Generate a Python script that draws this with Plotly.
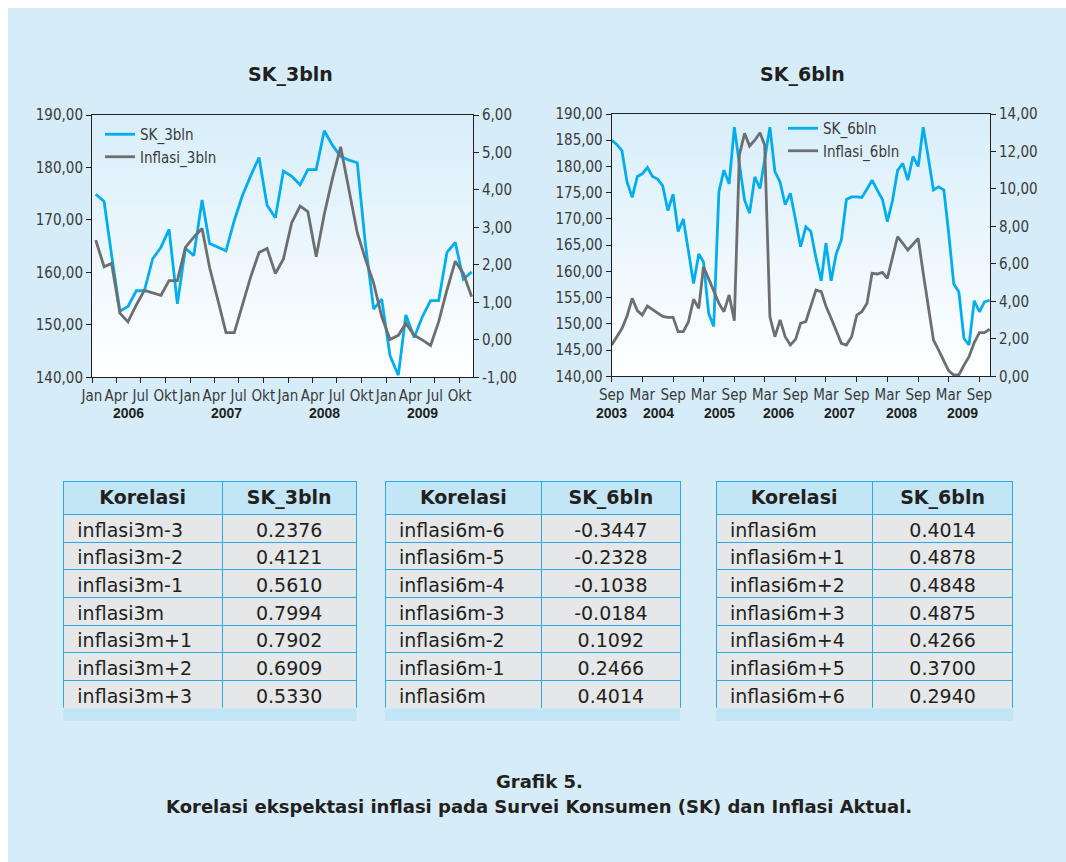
import base64
import pandas as pd
import plotly.graph_objects as go

W, H = 1066, 862

# ---------------- data: SK_3bln chart (monthly, Jan 2006 - Nov 2009) ----------------
sk_3bln = [174.9, 173.5, 163.3, 152.6, 153.5, 156.5, 156.5, 162.6, 164.8, 168.2,
           154.0, 164.6, 163.2, 173.8, 165.5, 164.8, 164.1, 169.9, 174.6, 178.4,
           181.9, 172.8, 170.4, 179.3, 178.3, 176.7, 179.6, 179.6, 187.0, 184.2,
           182.1, 181.4, 180.9, 165.5, 153.0, 154.9, 144.1, 140.4, 151.9, 147.6,
           151.5, 154.6, 154.6, 163.8, 165.7, 158.7, 160.1]
inflasi_3bln = [2.66, 1.95, 2.04, 0.71, 0.48, 0.93, 1.32, 1.25, 1.19, 1.58,
                1.58, 2.47, 2.74, 2.97, 1.93, 1.06, 0.19, 0.19, 0.95, 1.68,
                2.33, 2.44, 1.77, 2.16, 3.13, 3.57, 3.42, 2.22, 3.35, 4.32,
                5.15, 3.96, 2.86, 2.16, 1.51, 0.62, 0.01, 0.12, 0.44, 0.12,
                0.00, -0.15, 0.48, 1.33, 2.10, 1.77, 1.15]
months_3bln = pd.date_range("2006-01-01", periods=len(sk_3bln), freq="MS")

# ---------------- data: SK_6bln chart (monthly, Sep 2003 - Nov 2009) ----------------
sk_6bln = [185.0, 184.2, 183.0, 177.1, 174.1, 178.1, 178.6, 179.8, 178.1, 177.6,
           176.3, 171.6, 174.7, 167.6, 170.0, 164.0, 157.7, 163.3, 161.8, 152.0,
           149.5, 175.2, 179.3, 176.7, 187.5, 180.5, 173.6, 171.1, 178.0, 175.8,
           181.5, 187.5, 179.0, 177.0, 172.7, 174.9, 169.8, 164.7, 168.5, 167.6,
           162.5, 158.2, 165.4, 158.2, 163.3, 166.0, 173.7, 174.2, 174.2, 174.1,
           175.7, 177.4, 175.5, 173.7, 169.5, 173.5, 179.2, 180.6, 177.4, 181.9,
           180.0, 187.5, 181.5, 175.5, 176.1, 175.5, 167.5, 157.6, 156.1, 147.2,
           146.0, 154.4, 152.3, 154.2, 154.5]
inflasi_6bln = [1.67, 2.10, 2.55, 3.20, 4.16, 3.50, 3.27, 3.75, 3.57, 3.40,
                3.20, 3.15, 3.15, 2.38, 2.38, 2.90, 4.11, 3.63, 5.85, 5.20,
                4.60, 3.90, 3.45, 4.34, 2.97, 11.81, 12.97, 12.29, 12.60, 13.00,
                12.35, 3.18, 2.11, 3.01, 2.11, 1.67, 1.97, 2.83, 2.92, 3.80,
                4.61, 4.52, 3.75, 3.10, 2.40, 1.76, 1.67, 2.11, 3.27, 3.45,
                3.90, 5.50, 5.46, 5.55, 5.23, 6.30, 7.45, 7.10, 6.74, 7.05,
                7.36, 5.50, 3.60, 1.94, 1.40, 0.80, 0.30, 0.07, 0.07, 0.60,
                1.05, 1.80, 2.33, 2.33, 2.51]
months_6bln = pd.date_range("2003-09-01", periods=len(sk_6bln), freq="MS")

# ---------------- tick labels ----------------
xt3_vals = pd.date_range("2006-01-01", "2009-10-01", freq="3MS")
xt3_text = ["Jan", "Apr", "Jul", "Okt"] * 4
years3 = ["2006", "2007", "2008", "2009"]
years3_pos = ["2006-05-16", "2007-05-16", "2008-05-16", "2009-05-16"]

xt6_vals = pd.date_range("2003-09-01", "2009-09-01", freq="6MS")
xt6_text = ["Sep", "Mar"] * 6 + ["Sep"]
years6 = ["2003", "2004", "2005", "2006", "2007", "2008", "2009"]
years6_pos = ["2003-09-01", "2004-06-05", "2005-06-05", "2006-05-25",
              "2007-05-20", "2008-05-25", "2009-05-25"]

y3l_vals = [140, 150, 160, 170, 180, 190]
y3l_text = ["140,00", "150,00", "160,00", "170,00", "180,00", "190,00"]
y3r_vals = [-1, 0, 1, 2, 3, 4, 5, 6]
y3r_text = ["-1,00", "0,00", "1,00", "2,00", "3,00", "4,00", "5,00", "6,00"]
y6l_vals = [140, 145, 150, 155, 160, 165, 170, 175, 180, 185, 190]
y6l_text = ["140,00", "145,00", "150,00", "155,00", "160,00", "165,00",
            "170,00", "175,00", "180,00", "185,00", "190,00"]
y6r_vals = [0, 2, 4, 6, 8, 10, 12, 14]
y6r_text = ["0,00", "2,00", "4,00", "6,00", "8,00", "10,00", "12,00", "14,00"]

# ---------------- table data ----------------
t1_label = ["inflasi3m-3", "inflasi3m-2", "inflasi3m-1", "inflasi3m",
            "inflasi3m+1", "inflasi3m+2", "inflasi3m+3"]
t1_value = [0.2376, 0.4121, 0.5610, 0.7994, 0.7902, 0.6909, 0.5330]
t2_label = ["inflasi6m-6", "inflasi6m-5", "inflasi6m-4", "inflasi6m-3",
            "inflasi6m-2", "inflasi6m-1", "inflasi6m"]
t2_value = [-0.3447, -0.2328, -0.1038, -0.0184, 0.1092, 0.2466, 0.4014]
t3_label = ["inflasi6m", "inflasi6m+1", "inflasi6m+2", "inflasi6m+3",
            "inflasi6m+4", "inflasi6m+5", "inflasi6m+6"]
t3_value = [0.4014, 0.4878, 0.4848, 0.4875, 0.4266, 0.3700, 0.2940]

# ---------------- style ----------------
CYAN = "#00aeef"
GREY = "#6d6e71"
AXIS = "#231f20"
TXT = "#3a3a3c"
PANEL = "#d6ecf8"
HEAD = "#c3e6f7"
ROW = "#e6e7e8"
SEP = "#29abe2"
NARROW = "Liberation Sans Narrow, Arial Narrow, DejaVu Sans Condensed, sans-serif"
BOLDF = "DejaVu Sans, Arial, sans-serif"


def px(x):
    return x / W


def py(y):
    return 1 - y / H


L = dict(x0=92, x1=473, y0=115, y1=377.3)
R = dict(x0=611.7, x1=990, y0=114, y1=376.3)

fig = go.Figure()

fig.add_trace(go.Scatter(x=months_3bln + pd.Timedelta(days=14), y=sk_3bln, name="SK_3bln",
                         mode="lines", line=dict(color=CYAN, width=2.8),
                         xaxis="x", yaxis="y", legend="legend"))
fig.add_trace(go.Scatter(x=months_3bln + pd.Timedelta(days=14), y=inflasi_3bln, name="Inflasi_3bln",
                         mode="lines", line=dict(color=GREY, width=2.8),
                         xaxis="x", yaxis="y2", legend="legend"))
fig.add_trace(go.Scatter(x=months_6bln, y=sk_6bln, name="SK_6bln",
                         mode="lines", line=dict(color=CYAN, width=2.8),
                         xaxis="x2", yaxis="y3", legend="legend2"))
fig.add_trace(go.Scatter(x=months_6bln, y=inflasi_6bln, name="Inflasi_6bln",
                         mode="lines", line=dict(color=GREY, width=2.8),
                         xaxis="x2", yaxis="y4", legend="legend2"))

# ---------------- tables ----------------
tables = [
    (t1_label, t1_value, "SK_3bln", 63.3, 356.7, [159, 134.4]),
    (t2_label, t2_value, "SK_6bln", 385.0, 680.0, [156.7, 138.3]),
    (t3_label, t3_value, "SK_6bln", 716.0, 1013.3, [156.3, 141.0]),
]
T_TOP, T_BOT, T_STRIP = 481.7, 708.3, 721.0
for labels, values, col2, x0, x1, cw in tables:
    fig.add_trace(go.Table(
        domain=dict(x=[px(x0), px(x1)], y=[py(T_BOT), py(T_TOP)]),
        columnwidth=cw,
        header=dict(values=["Korelasi", col2], fill_color=HEAD, height=32.6,
                    line=dict(color=SEP, width=1), align="center",
                    font=dict(family=BOLDF, size=19, color="#231f20", weight="bold")),
        cells=dict(values=[["\u00a0" + s for s in labels], [f"{v:.4f}" for v in values]],
                   fill_color=ROW, height=27.7, line=dict(color=SEP, width=1),
                   align=["left", "center"],
                   font=dict(family=BOLDF, size=19, color="#231f20")),
    ))

shapes = [
    dict(type="rect", xref="paper", yref="paper", x0=0, x1=1, y0=py(8), y1=1,
         fillcolor="white", line_width=0, layer="below"),
    dict(type="rect", xref="paper", yref="paper", x0=0, x1=px(8), y0=0, y1=1,
         fillcolor="white", line_width=0, layer="below"),
]
for _, _, _, x0, x1, _ in tables:
    shapes.append(dict(type="rect", xref="paper", yref="paper", x0=px(x0), x1=px(x1),
                       y0=py(T_STRIP), y1=py(T_BOT), fillcolor=HEAD, line_width=0))

# plot-area gradient background
svg = ('<svg xmlns="http://www.w3.org/2000/svg" width="100" height="100" preserveAspectRatio="none">'
       '<defs><linearGradient id="g" x1="0" y1="0" x2="0" y2="1">'
       '<stop offset="0" stop-color="#d8eefa"/><stop offset="1" stop-color="#ffffff"/>'
       '</linearGradient></defs><rect width="100" height="100" fill="url(#g)"/></svg>')
src = "data:image/svg+xml;base64," + base64.b64encode(svg.encode()).decode()
images = []
for b in (L, R):
    images.append(dict(source=src, xref="paper", yref="paper", x=px(b["x0"]), y=py(b["y0"]),
                       sizex=px(b["x1"]) - px(b["x0"]), sizey=py(b["y0"]) - py(b["y1"]),
                       sizing="stretch", xanchor="left", yanchor="top", layer="below"))

tickfont = dict(family=NARROW, size=15, color=TXT)
common_x = dict(type="date", showgrid=False, zeroline=False, showline=True, linecolor=AXIS,
                linewidth=1, mirror=True, ticks="outside", ticklen=5, tickcolor=AXIS,
                tickfont=tickfont, tickmode="array", tickangle=0, automargin=False)
common_y = dict(showgrid=False, zeroline=False, showline=True, linecolor=AXIS, linewidth=1,
                ticks="outside", ticklen=5, tickcolor=AXIS, tickfont=tickfont, tickmode="array",
                automargin=False)


def ann(text, x, y, size, family=BOLDF, xref="paper"):
    return dict(text=text, x=x, y=y, xref=xref, yref="paper", xanchor="center",
                yanchor="middle", showarrow=False,
                font=dict(family=family, size=size, color="#231f20"))


annotations = [
    ann("<b>SK_3bln</b>", px(290), py(75), 19),
    ann("<b>SK_6bln</b>", px(802), py(75), 19),
    ann("<b>Grafik 5.</b>", px(539), py(781), 18),
    ann("<b>Korelasi ekspektasi inflasi pada Survei Konsumen (SK) dan Inflasi Aktual.</b>",
        px(539), py(806), 18),
]
YEARF = "Liberation Sans, Arial, sans-serif"
for t, p in zip(years3, years3_pos):
    annotations.append(ann(f"<b>{t}</b>", p, py(413), 14, YEARF, "x"))
for t, p in zip(years6, years6_pos):
    annotations.append(ann(f"<b>{t}</b>", p, py(413), 14, YEARF, "x2"))

legend_style = dict(bgcolor="rgba(0,0,0,0)", borderwidth=0, font=dict(family=NARROW, size=15, color=TXT),
                    xanchor="left", yanchor="top", itemwidth=30, tracegroupgap=0)

fig.update_layout(
    width=W, height=H, margin=dict(l=0, r=0, t=0, b=0, pad=0, autoexpand=False),
    paper_bgcolor=PANEL, plot_bgcolor="rgba(0,0,0,0)",
    showlegend=True,
    legend=dict(x=px(100), y=py(118), **legend_style),
    legend2=dict(x=px(783), y=py(112), **legend_style),
    xaxis=dict(domain=[px(L["x0"]), px(L["x1"])], anchor="y",
               range=["2006-01-01", "2009-11-20"],
               tickvals=list(xt3_vals), ticktext=xt3_text, **common_x),
    yaxis=dict(domain=[py(L["y1"]), py(L["y0"])], anchor="x", range=[140, 190],
               tickvals=y3l_vals, ticktext=y3l_text, **common_y),
    yaxis2=dict(overlaying="y", side="right", anchor="x", range=[-1, 6],
                tickvals=y3r_vals, ticktext=y3r_text, **common_y),
    xaxis2=dict(domain=[px(R["x0"]), px(R["x1"])], anchor="y3",
                range=["2003-09-01", "2009-11-03"],
                tickvals=list(xt6_vals), ticktext=xt6_text, **common_x),
    yaxis3=dict(domain=[py(R["y1"]), py(R["y0"])], anchor="x2", range=[140, 190],
                tickvals=y6l_vals, ticktext=y6l_text, **common_y),
    yaxis4=dict(overlaying="y3", side="right", anchor="x2", range=[0, 14],
                tickvals=y6r_vals, ticktext=y6r_text, **common_y),
    shapes=shapes, images=images, annotations=annotations,
)

fig.write_html("out.html", config={"displayModeBar": False},
               post_script="document.body.style.margin='0';document.body.style.overflow='hidden';")
